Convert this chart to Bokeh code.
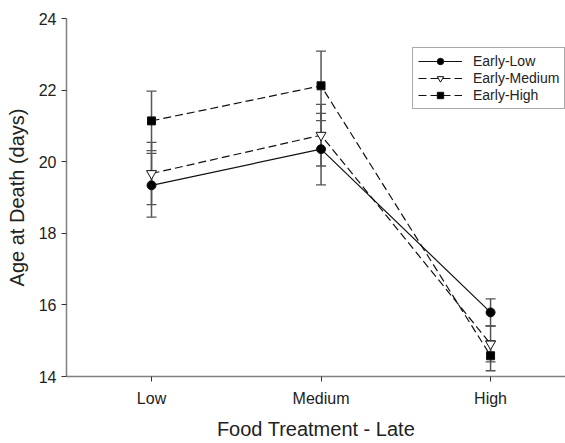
from bokeh.plotting import figure
from bokeh.models import ColumnDataSource, Whisker, TeeHead, FixedTicker, Range1d, Legend, LegendItem
from bokeh.embed import file_html
from bokeh.resources import INLINE

categories = ["Low", "Medium", "High"]
x_pos = [1, 2, 3]

early_low = [19.34, 20.35, 15.79]
early_low_err = [0.89, 1.00, 0.38]
early_medium = [19.67, 20.74, 14.91]
early_medium_err = [0.87, 0.86, 0.50]
early_high = [21.14, 22.12, 14.58]
early_high_err = [0.83, 0.97, 0.42]

y_ticks = [14, 16, 18, 20, 22, 24]

FONT = "Liberation Sans"
TXT = "#222222"
AX = "#808080"

p = figure(width=565, height=443, output_backend="svg", toolbar_location=None,
           x_range=Range1d(0.4985, 3.442), y_range=Range1d(14, 24),
           min_border_left=66, min_border_right=0, min_border_top=18, min_border_bottom=67)
p.outline_line_color = None
p.grid.visible = False
p.background_fill_color = "white"

series = [
    ("Early-Low", early_low, early_low_err, "solid", "circle", "black", 9),
    ("Early-Medium", early_medium, early_medium_err, "8 4", "inverted_triangle", "white", 10),
    ("Early-High", early_high, early_high_err, "8 4", "square", "black", 8),
]

for name, vals, errs, dash, marker, fill, size in series:
    src = ColumnDataSource(dict(x=x_pos, y=vals,
                                upper=[v + e for v, e in zip(vals, errs)],
                                lower=[v - e for v, e in zip(vals, errs)]))
    w = Whisker(source=src, base="x", upper="upper", lower="lower",
                line_color="#555555", line_width=1.5,
                upper_head=TeeHead(size=10, line_color="#555555", line_width=1.3),
                lower_head=TeeHead(size=10, line_color="#555555", line_width=1.3))
    p.add_layout(w)

items = []
for name, vals, errs, dash, marker, fill, size in series:
    src = ColumnDataSource(dict(x=x_pos, y=vals))
    ln = p.line("x", "y", source=src, line_color="#111111", line_width=1.2, line_dash=dash)
    sc = p.scatter("x", "y", source=src, marker=marker, size=size, fill_color=fill,
                   line_color="#111111", line_width=1.0)
    items.append(LegendItem(label=name, renderers=[ln, sc]))

legend = Legend(items=items, location=(346, 267), padding=5, spacing=1,
                label_height=16, glyph_height=16, glyph_width=44, label_standoff=11,
                label_text_font=FONT, label_text_font_size="14px", label_text_color=TXT,
                border_line_color="#555555", border_line_width=1,
                background_fill_alpha=1.0, margin=0)
p.add_layout(legend)

p.xaxis.ticker = FixedTicker(ticks=x_pos)
p.xaxis.major_label_overrides = {x: c for x, c in zip(x_pos, categories)}
p.yaxis.ticker = FixedTicker(ticks=y_ticks)
p.xaxis.minor_tick_line_color = None
p.yaxis.minor_tick_line_color = None

for ax in (p.xaxis, p.yaxis):
    ax.axis_line_color = AX
    ax.axis_line_width = 1.5
    ax.major_tick_line_color = "#333333"
    ax.major_tick_line_width = 1
    ax.major_tick_out = 5
    ax.major_tick_in = 0
    ax.major_label_text_font = FONT
    ax.major_label_text_font_size = "16px"
    ax.major_label_text_color = TXT
    ax.axis_label_text_font = FONT
    ax.axis_label_text_font_size = "20px"
    ax.axis_label_text_font_style = "normal"
    ax.axis_label_text_color = TXT

p.xaxis.axis_label = "Food Treatment - Late"
p.yaxis.axis_label = "Age at Death (days)"
p.xaxis.major_label_standoff = 8
p.xaxis.axis_label_standoff = 8
p.yaxis.major_label_standoff = 5
p.yaxis.axis_label_standoff = 8

open("out.html", "w").write(file_html(p, INLINE))
